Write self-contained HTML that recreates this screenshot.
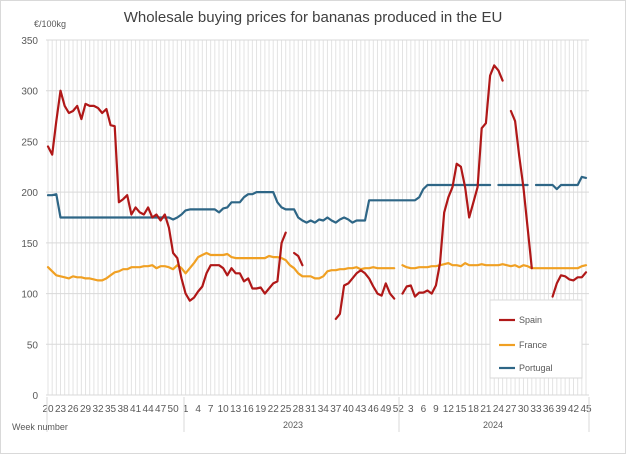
<!DOCTYPE html>
<html><head><meta charset="utf-8"><style>
body{margin:0;background:#fff;}
#c{position:relative;width:626px;height:454px;overflow:hidden;font-family:"Liberation Sans",sans-serif;}
</style></head><body>
<div id="c">
<svg id="s" width="626" height="454" xmlns="http://www.w3.org/2000/svg"></svg>
</div>
<script>
const spain=[245,237,270,300,285,278,280,285,272,287,285,285,283,278,282,266,265,190,193,197,178,185,180,178,185,175,178,172,178,165,140,135,115,100,93,96,102,107,120,128,128,128,125,118,125,120,120,112,115,105,105,106,100,105,110,112,150,160,null,140,137,128,null,null,null,null,null,null,null,75,80,108,110,115,120,123,120,115,107,100,98,110,100,95,null,100,107,108,97,101,101,103,100,108,130,180,195,205,228,225,205,175,190,205,263,268,315,325,320,310,null,280,270,235,205,165,125,null,null,null,null,97,110,118,117,114,113,116,116,121];
const france=[126,122,118,117,116,115,117,116,116,115,115,114,113,113,115,118,121,122,124,124,126,126,126,127,127,128,125,127,127,126,124,128,125,120,125,130,136,138,140,138,138,138,138,139,136,135,135,135,135,135,135,135,135,137,136,136,135,133,128,125,120,117,117,117,115,115,117,122,123,123,124,124,125,125,126,124,125,125,126,125,125,125,125,125,null,128,126,125,125,126,126,126,127,127,128,129,130,128,128,127,130,128,128,128,129,128,128,128,128,129,128,127,128,126,128,127,125,125,125,125,125,125,125,125,125,125,125,125,127,128];
const portugal=[197,197,198,175,175,175,175,175,175,175,175,175,175,175,175,175,175,175,175,175,175,175,175,175,175,175,175,175,175,175,173,175,178,182,183,183,183,183,183,183,183,180,184,185,190,190,190,195,198,198,200,200,200,200,200,200,200,200,200,200,200,200,200,200,200,200,200,200,200,200,200,200,200,200,200,200,200,200,200,200,200,200,200,200,200,200,200];
// Portugal continuation (2023 w18 onwards) adjusted below
const portugal2=[190,185,183,183,183,175,172,170,172,170,173,172,175,172,170,173,175,173,170,172,172,172,192,192,192,192,192,192,192,192,192,192,192,192,195,203,207,207,207,207,207,207,207,207,207,207,207,207,207,207,207,207,null,207,207,207,207,207,207,207,207,null,207,207,207,207,207,203,207,207,207,207,207,215,214];
const portugalAll=portugal.slice(0,55).concat(portugal2);
const yTicks=[0,50,100,150,200,250,300,350];
const labels2022=[20,23,26,29,32,35,38,41,44,47,50];
const labels2023=[1,4,7,10,13,16,19,22,25,28,31,34,37,40,43,46,49,52];
const labels2024=[3,6,9,12,15,18,21,24,27,30,33,36,39,42,45];
const N=130;
const X0=48,X1=586,Y0=395,Y1=40,YMAX=350;
const xs=i=>X0+i*(X1-X0)/(N-1);
const ys=v=>Y0-(v/YMAX)*(Y0-Y1);
const NS='http://www.w3.org/2000/svg';
const svg=document.getElementById('s');
function mk(t,a,p){const e=document.createElementNS(NS,t);for(const k in a)e.setAttribute(k,a[k]);(p||svg).appendChild(e);return e;}
mk('rect',{x:0.5,y:0.5,width:625,height:453,fill:'#fff',stroke:'#d9d9d9'});
// vertical grid
for(let i=0;i<N;i++){const l=mk('line',{x1:xs(i),x2:xs(i),y1:Y1,y2:Y0,stroke:'#e3e3e3','stroke-width':1});

}
yTicks.forEach(v=>{const l=mk('line',{x1:X0-2,x2:X1+3,y1:ys(v),y2:ys(v),stroke:'#d9d9d9','stroke-width':1});


const t=mk('text',{x:38,y:ys(v)+4,'text-anchor':'end','font-size':10,fill:'#595959'});t.textContent=v;

});
// x labels
function xl(arr,startIdx,firstWeek){arr.forEach(w=>{const i=startIdx+(w-firstWeek);const t=mk('text',{x:xs(i),y:412,'text-anchor':'middle','font-size':10,fill:'#595959'});t.textContent=w;

});}
xl(labels2022,0,20);xl(labels2023,33,1);xl(labels2024,85,1);
[X0-1,184,399,589].forEach(x=>{mk('line',{x1:x,x2:x,y1:397,y2:432,stroke:'#d9d9d9'});});
function tx(s,x,y,o){const t=mk('text',Object.assign({x:x,y:y,'font-size':10,fill:'#595959'},o||{}));t.textContent=s;return t;}
let t;
t=tx('Week number',12,430,{'font-size':9});
t=tx('2023',293,428,{'text-anchor':'middle','font-size':9});
t=tx('2024',493,428,{'text-anchor':'middle','font-size':9});
t=tx('€/100kg',34,27,{'font-size':9});
t=tx('Wholesale buying prices for bananas produced in the EU',313,22,{'text-anchor':'middle','font-size':15,fill:'#404040'});
function series(data,color,name){let d='',pen=false;data.forEach((v,i)=>{if(v==null){pen=false;return;}d+=(pen?'L':'M')+xs(i).toFixed(1)+' '+ys(v).toFixed(1)+' ';pen=true;});
const p=mk('path',{d:d,fill:'none',stroke:color,'stroke-width':2.2,'stroke-linejoin':'round','stroke-linecap':'round'});

}
series(france,'#f0a023','france-line');
series(portugalAll,'#2e6686','portugal-line');
series(spain,'#b01818','spain-line');
// legend
const lg=mk('rect',{x:490,y:300,width:92,height:78,fill:'#fff',stroke:'#d9d9d9'});

[['Spain','#b01818',320],['France','#f0a023',345],['Portugal','#2e6686',368]].forEach(e=>{
const l=mk('line',{x1:499,x2:515,y1:e[2],y2:e[2],stroke:e[1],'stroke-width':2.2});

const tt=tx(e[0],519,e[2]+3,{'font-size':9});
});
</script>
</body></html>
